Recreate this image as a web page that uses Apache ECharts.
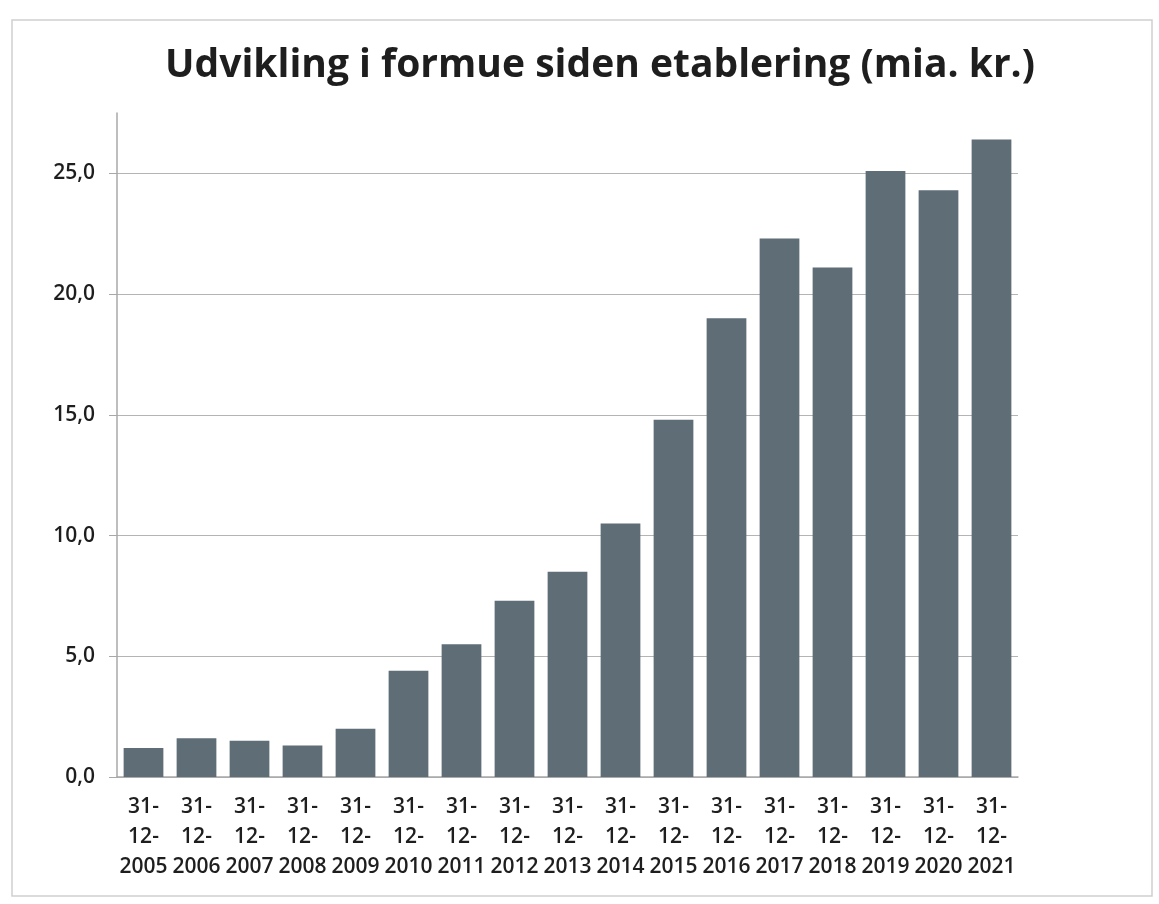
<!DOCTYPE html>
<html>
<head>
<meta charset="utf-8">
<script src="https://cdn.jsdelivr.net/npm/echarts@6/dist/echarts.min.js"></script>
<style>html,body{margin:0;padding:0;background:#fff;}#c{width:1159px;height:904px;}</style>
</head>
<body>
<div id="c"></div>
<script>
const titleText = 'Udvikling i formue siden etablering (mia. kr.)';
const categories = ['31-12-2005','31-12-2006','31-12-2007','31-12-2008','31-12-2009','31-12-2010','31-12-2011','31-12-2012','31-12-2013','31-12-2014','31-12-2015','31-12-2016','31-12-2017','31-12-2018','31-12-2019','31-12-2020','31-12-2021'];
const values = [1.2,1.6,1.5,1.3,2.0,4.4,5.5,7.3,8.5,10.5,14.8,19.0,22.3,21.1,25.1,24.3,26.4];
const yTicks = [0,5,10,15,20,25];

const chart = echarts.init(document.getElementById('c'), null, {renderer:'canvas'});
chart.setOption({
  backgroundColor:'#fff',
  animation:false,
  title:{
    text:titleText, left:595, top:41, textAlign:'center',
    textStyle:{fontFamily:'Open Sans', fontWeight:'bold', fontSize:39, color:'#1e1e1e'}
  },
  graphic:[{type:'rect', shape:{x:12,y:20,width:1140,height:876}, style:{fill:'none', stroke:'#cfcfcf', lineWidth:1.5}}],
  grid:{left:117, right:141, top:113, bottom:127},
  xAxis:{
    type:'category', data:categories,
    axisLine:{lineStyle:{color:'#a8a8a8', width:1.5}},
    axisTick:{show:false},
    axisLabel:{
      interval:0, margin:15, lineHeight:30,
      fontFamily:'Open Sans', fontWeight:600, fontSize:21, color:'#1e1e1e',
      formatter:function(v){const p=v.split('-');return p[0]+'-\n'+p[1]+'-\n'+p[2];}
    }
  },
  yAxis:{
    type:'value', min:0, max:27.5, interval:5,
    axisLine:{show:true, lineStyle:{color:'#a8a8a8', width:1.5}},
    axisTick:{show:true, length:8, lineStyle:{color:'#a8a8a8'}},
    splitLine:{show:true, showMaxLine:false, lineStyle:{color:'#b4b4b4', width:1.2}},
    axisLabel:{
      margin:22, showMaxLabel:false,
      fontFamily:'Open Sans', fontWeight:600, fontSize:21, color:'#1e1e1e',
      formatter:function(v){return yTicks.indexOf(v)>=0 ? v.toFixed(1).replace('.',',') : '';}
    }
  },
  series:[{
    type:'bar', data:values, barCategoryGap:'25%',
    itemStyle:{color:'#5f6d77'}
  }]
});
</script>
</body>
</html>
